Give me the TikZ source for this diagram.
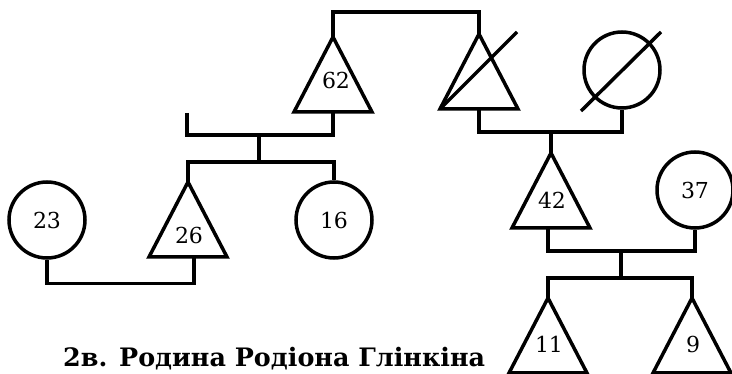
\documentclass[tikz,border=0pt]{standalone}
\usepackage{fontspec}
\newfontfamily\titlefont{DejaVu Serif}
\usetikzlibrary{calc}
\tikzset{
  fam/.style={line width=3.5pt, draw=black},
  conn/.style={line width=3.5pt, draw=black, line join=miter},
  person/.style={circle, fam, minimum size=76pt, inner sep=0pt, font=\titlefont\fontsize{22}{26}\selectfont},
  age/.style={font=\titlefont\fontsize{22}{26}\selectfont, inner sep=0pt},
  tri/.pic={
    \draw[fam, line join=miter] (-39,75) -- (0,0) -- (39,75) -- cycle;
    \coordinate (-apex) at (0,0);
    \coordinate (-base) at (0,75);
    \coordinate (-bl) at (-39,75);
  }
}
\begin{document}
\begin{tikzpicture}[x=1pt, y=-1pt]
\useasboundingbox (0,0) rectangle (732,374);
% persons
\pic (t62) at (333,37) {tri};
\node[age] (l62) at (336,80) {62};
\pic (td) at (479,34) {tri};
\coordinate (tdx) at (517,32);
\node[person] (cd) at (622,70) {};
\coordinate (cdA) at (581,111);
\coordinate (cdB) at (661,32);
\pic (t42) at (551,153) {tri};
\node[age] (l42) at (552,200) {42};
\node[person] (c37) at (695,190) {37};
\pic (t11) at (548,298) {tri};
\node[age] (l11) at (549,344) {11};
\pic (t9) at (692,298) {tri};
\node[age] (l9) at (693,344) {9};
\pic (t26) at (188,182) {tri};
\node[age] (l26) at (189,235) {26};
\node[person] (c16) at (334,220) {16};
\node[person] (c23) at (47,220) {23};
% deceased marks
\draw[fam] (td-bl) -- (tdx);
\draw[fam] (cdA) -- (cdB);
% connectors
\draw[conn] (t62-apex) -- ++(0,-25) -| (td-apex);
\draw[conn] (td-base) -- ++(0,23) coordinate (m1) -| (cd.south);
\draw[conn] (551,132) coordinate (m1c) -- (t42-apex);
\draw[conn] ([xshift=-3pt]t42-base) -- ++(0,23) -| (c37.south);
\coordinate (s1) at (621,251);
\coordinate (s1b) at (621,278);
\draw[conn] (s1) -- (s1b);
\draw[conn] (t11-apex) |- (s1b) -| (t9-apex);
\coordinate (stub) at (187,113);
\draw[conn] (stub) |- (333,135) coordinate (m2) -- (t62-base);
\coordinate (s2) at (259,135);
\coordinate (s2b) at (259,162);
\draw[conn] (s2) -- (s2b);
\draw[conn] (t26-apex) |- (s2b) -| (c16.north);
\draw[conn] (c23.south) -- ++(0,24) -| ([xshift=6pt]t26-base);
% title
\node[anchor=base west, inner sep=0pt, font=\titlefont\bfseries\fontsize{25.4}{30}\selectfont] (title) at (63,367) {2в. Родина Родіона Глінкіна};
\end{tikzpicture}
\end{document}
